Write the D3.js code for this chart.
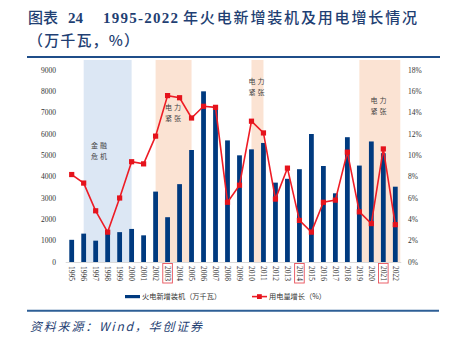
<!DOCTYPE html>
<html><head><meta charset="utf-8">
<script src="https://cdn.jsdelivr.net/npm/d3@7/dist/d3.min.js"></script>
<style>
html,body{margin:0;padding:0;background:#fff;}
svg{display:block;}
</style></head>
<body>
<script>
const years = [1995,1996,1997,1998,1999,2000,2001,2002,2003,2004,2005,2006,2007,2008,2009,2010,2011,2012,2013,2014,2015,2016,2017,2018,2019,2020,2021,2022];
const capacity = [1040,1330,1000,1500,1400,1550,1250,3300,2100,3650,5250,8000,7350,5700,5000,5280,5580,3720,3900,4350,6000,4500,3220,5850,4520,5650,5100,3530];
const growth = [8.2,7.4,4.8,2.8,6.0,9.4,9.2,11.8,15.6,15.4,13.5,14.6,14.5,5.6,7.2,13.2,12.1,5.9,8.8,3.9,2.8,5.6,5.8,10.3,4.7,3.6,10.6,3.5];
const leftTicks = [0,1000,2000,3000,4000,5000,6000,7000,8000,9000];
const rightTicks = [0,2,4,6,8,10,12,14,16,18];
const boxedYears = [2003,2014,2021];
const shadeSpans = [
  {from:1996, to:2000, kind:"blue", label:["金融","危机"]},
  {from:2002, to:2005, kind:"orange", label:["电力","紧张"]},
  {from:2010, to:2011, kind:"orange", label:["电力","紧张"]},
  {from:2019, to:null, kind:"orange", label:["电力","紧张"]}
];
const labelPos = [{x:100,y:146},{x:174,y:108},{x:257.5,y:82},{x:379.5,y:101}];

const W=451,H=341;
const svg=d3.select("body").append("svg").attr("width",W).attr("height",H);
const navy="#1f3f73";
const serif="'Liberation Serif','Times New Roman',serif";
const cjk="'Noto Sans CJK SC',sans-serif";

// title
function tline(x,y,txt,len,font,weight){
  svg.append("text").attr("x",x).attr("y",y).attr("font-family",font).attr("font-size",15)
   .attr("font-weight",weight).attr("fill",navy).attr("textLength",len).attr("lengthAdjust","spacing").text(txt);
}
tline(28,23,"图表",30,cjk,500);
tline(68,23,"24",15,serif,"bold");
tline(103,23,"1995-2022",75,serif,"bold");
tline(183,23,"年火电新增装机及用电增长情况",234,cjk,500);
tline(28,46,"（万千瓦，%）",111,cjk,500);
svg.append("line").attr("x1",27).attr("x2",440).attr("y1",57).attr("y2",57).attr("stroke","#1f4e89").attr("stroke-width",2);

const x=d3.scaleBand().domain(years).range([65.7,401.3]).paddingInner(0.6).paddingOuter(0.3);
const cx=d=>x(d)+x.bandwidth()/2;
const yL=d3.scaleLinear().domain([0,9000]).range([262,70]);
const yR=d3.scaleLinear().domain([0,18]).range([262,70]);

// shading
shadeSpans.forEach((s,i)=>{
  const x0=cx(s.from), x1=s.to===null?x.range()[1]-1:cx(s.to);
  svg.append("rect").attr("x",x0).attr("y",60).attr("width",x1-x0).attr("height",262-60)
    .attr("fill",s.kind==="blue"?"#dce7f4":"#fbe3d3");
});

// axes labels
svg.append("g").selectAll("text").data(leftTicks).join("text")
  .attr("x",56).attr("y",d=>yL(d)).attr("dy","0.35em").attr("text-anchor","end")
  .attr("font-family",serif).attr("font-size",7.5).attr("fill","#333").text(d=>d);
svg.append("g").selectAll("text").data(rightTicks).join("text")
  .attr("x",408).attr("y",d=>yR(d)).attr("dy","0.35em").attr("text-anchor","start")
  .attr("font-family",serif).attr("font-size",7.5).attr("fill","#333").text(d=>d+"%");

// baseline
svg.append("line").attr("x1",x.range()[0]).attr("x2",x.range()[1]).attr("y1",262.5).attr("y2",262.5).attr("stroke","#d9d9d9").attr("stroke-width",1);

// bars
svg.append("g").selectAll("rect").data(years).join("rect")
  .attr("x",d=>x(d)).attr("width",x.bandwidth())
  .attr("y",(d,i)=>yL(capacity[i])).attr("height",(d,i)=>yL(0)-yL(capacity[i]))
  .attr("fill","#003a7f");

// line
const line=d3.line().x((d,i)=>cx(years[i])).y(d=>yR(d));
svg.append("path").datum(growth).attr("d",line).attr("fill","none").attr("stroke","#ee1c25").attr("stroke-width",1.6);
svg.append("g").selectAll("rect").data(growth).join("rect")
  .attr("x",(d,i)=>cx(years[i])-2.6).attr("y",d=>yR(d)-2.6).attr("width",5.2).attr("height",5.2).attr("fill","#e5131c");

// annotations
shadeSpans.forEach((s,i)=>{
  s.label.forEach((t,j)=>{
    svg.append("text").attr("x",labelPos[i].x).attr("y",labelPos[i].y+j*11).attr("dy","0.35em")
      .attr("text-anchor","middle").attr("font-family",cjk).attr("font-size",7).attr("letter-spacing",2)
      .attr("fill","#444").text(t);
  });
});

// x labels
svg.append("g").selectAll("text").data(years).join("text")
  .attr("transform",d=>`translate(${cx(d)},266) rotate(90)`)
  .attr("dy","0.35em").attr("text-anchor","start")
  .attr("font-family",serif).attr("font-size",7.5).attr("fill","#333").text(d=>d);
svg.append("g").selectAll("rect").data(boxedYears).join("rect")
  .attr("x",d=>cx(d)-4.8).attr("y",263.5).attr("width",9.6).attr("height",19.5)
  .attr("fill","none").attr("stroke","#e8505a").attr("stroke-width",0.9);

// legend
svg.append("rect").attr("x",125).attr("y",295).attr("width",15).attr("height",3.2).attr("fill","#003a7f");
svg.append("text").attr("x",142).attr("y",296.6).attr("dy","0.35em").attr("font-family",cjk).attr("font-size",7.2).attr("fill","#333").text("火电新增装机（万千瓦）");
svg.append("line").attr("x1",252).attr("x2",267).attr("y1",296.6).attr("y2",296.6).attr("stroke","#ee1c25").attr("stroke-width",1.6);
svg.append("rect").attr("x",257).attr("y",294.2).attr("width",4.8).attr("height",4.8).attr("fill","#e5131c");
svg.append("text").attr("x",269).attr("y",296.6).attr("dy","0.35em").attr("font-family",cjk).attr("font-size",7.2).attr("fill","#333").text("用电量增长（%）");

// source
svg.append("line").attr("x1",27).attr("x2",439).attr("y1",310.8).attr("y2",310.8).attr("stroke","#2e5f96").attr("stroke-width",2);
svg.append("text").attr("x",30).attr("y",331).attr("font-family",cjk).attr("font-size",12).attr("font-style","italic")
  .attr("fill",navy).attr("textLength",172).attr("lengthAdjust","spacing").text("资料来源：Wind，华创证券");
</script>
</body></html>
